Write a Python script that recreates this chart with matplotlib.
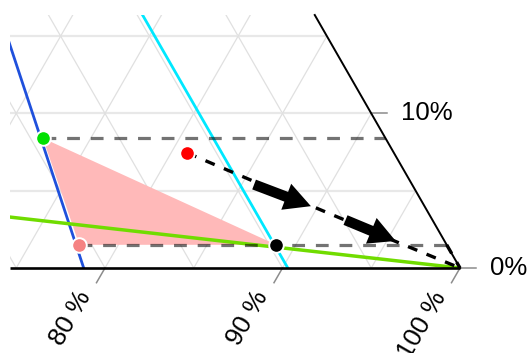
import numpy as np
import matplotlib.pyplot as plt
from matplotlib import transforms
from matplotlib.patches import Polygon, FancyArrowPatch

plt.rcParams['font.family'] = ['Liberation Sans', 'DejaVu Sans']

SQ3 = np.sqrt(3)

# compositions in percent: (bottom axis component, right axis component)
green_pt = (72.3, 8.4)
red_pt = (80.9, 7.45)
pink_pt = (77.8, 1.5)
black_pt = (88.9, 1.5)

# trajectory from the red point down to the pure corner
path_pts = [(80.9, 7.45), (89.4, 4.1), (95.3, 1.8), (100.0, 0.0)]
edge_pts = [(98.5, 1.5), (100.0, 0.0)]
arrow_tails = [(85.7, 5.4), (92.0, 3.1)]
arrow_tips = [(89.6, 4.0), (95.5, 1.75)]

blue_foot = 78.8    # line from the top vertex to this bottom value
cyan_b = 9.7        # third component held constant
green_left = 12.2   # line from the 100% corner to the left edge at this value

bottom_ticks = [80, 90, 100]
bottom_labels = ['80 %', '90 %', '100 %']
right_ticks = [0, 10]
right_labels = ['0%', '10%']
grid_vals = [5, 10, 15, 20, 25, 30]


def tern(a, c):
    a = np.asarray(a, dtype=float) / 100
    c = np.asarray(c, dtype=float) / 100
    return a + c / 2, c * SQ3 / 2


def seg(p, q):
    x0, y0 = tern(*p)
    x1, y1 = tern(*q)
    return [x0, x1], [y0, y1]


W, H = 529, 353
fig = plt.figure(figsize=(W / 100, H / 100), dpi=100)
ax = fig.add_axes([0, 0, 1, 1])
xlim = (0.74085, 1.03887)
ylim = (-0.04762, 0.15014)
ax.set_xlim(*xlim)
ax.set_ylim(*ylim)
ax.axis('off')
px_x = W / (xlim[1] - xlim[0])
px_y = H / (ylim[1] - ylim[0])

# visible part of the triangle
x_left = xlim[0] + 10 / px_x
y_top = ylim[1] - 15 / px_y
clip = Polygon([(x_left, 0), (1, 0), (1 - y_top / SQ3, y_top), (x_left, y_top)],
               closed=True, facecolor='none', edgecolor='none', transform=ax.transData)
ax.add_patch(clip)


def clipped(artists):
    for a in artists:
        a.set_clip_path(clip)


# grid
for v in grid_vals:
    if v < 20:
        clipped(ax.plot(*seg((-50, v), (100 - v, v)), color='#e8e8e8', lw=1.6, zorder=1))
    clipped(ax.plot(*seg((100 - v, 0), (60 - v, 40)), color='#e0e0e0', lw=0.9, zorder=1))
for v in [70, 75, 80, 85, 90, 95]:
    clipped(ax.plot(*seg((v, 0), (v, 100 - v)), color='#e0e0e0', lw=0.9, zorder=1))

# shaded triangle
tri = np.array([tern(*p) for p in [green_pt, pink_pt, black_pt]])
poly = Polygon(tri, closed=True, facecolor='#ffb9b9', edgecolor='none', zorder=2)
ax.add_patch(poly)
poly.set_clip_path(clip)

# reference lines
clipped(ax.plot(*seg((0, 100), (blue_foot, 0)), color='#1f50dc', lw=2.0, zorder=3))
clipped(ax.plot(*seg((100 - cyan_b, 0), (70 - cyan_b, 30)), color='#00e8ff', lw=2.0, zorder=3))
clipped(ax.plot(*seg((100, 0), (0, green_left)), color='#70dc00', lw=2.5, zorder=3.5))

# horizontal guides to the right edge
for p in [green_pt, pink_pt]:
    ax.plot(*seg(p, (100 - p[1], p[1])), color='black', alpha=0.55, lw=2.3,
            dashes=(4, 3.4), zorder=4)

# trajectory
px, py = tern([p[0] for p in path_pts], [p[1] for p in path_pts])
ax.plot(px, py, color='black', lw=2.4, dashes=(3.0, 3.0), zorder=5)
ax.plot(*seg(*edge_pts), color='black', lw=2.4, dashes=(3.0, 3.0), zorder=5)
for t, h in zip(arrow_tails, arrow_tips):
    ax.add_patch(FancyArrowPatch(tern(*t), tern(*h),
                                 arrowstyle='simple,head_length=1.9,head_width=2.0,tail_width=0.75',
                                 mutation_scale=10, color='black', lw=0,
                                 shrinkA=0, shrinkB=0, zorder=6))

# triangle edges
ax.plot([x_left, 1], [0, 0], color='black', lw=1.9, zorder=4.5, solid_capstyle='butt')
ax.plot([1, 1 - y_top / SQ3], [0, y_top], color='black', lw=1.4, zorder=4.5)

# points
for p, col in [(green_pt, '#00e000'), (red_pt, '#ff0000'),
               (pink_pt, '#f58282'), (black_pt, 'black')]:
    x, y = tern(*p)
    ax.plot(x, y, 'o', ms=10.5, color=col, mec='white', mew=1.4, zorder=7)

# bottom axis ticks and labels
for t, lab in zip(bottom_ticks, bottom_labels):
    x, y = tern(t, 0)
    ax.plot([x, x - 8.5 / px_x], [y, y - 14.7 / px_y], color='#8c8c8c', lw=1.1, zorder=4)
    tr = transforms.offset_copy(ax.transData, fig, x=-20, y=-25, units='dots')
    ax.text(x, y, lab, transform=tr, rotation=60, rotation_mode='anchor',
            ha='right', va='center', fontsize=18.5, color='black')

# right axis ticks and labels
for t, lab in zip(right_ticks, right_labels):
    x, y = tern(100 - t, t)
    ax.plot([x, x + 16 / px_x], [y, y], color='#8c8c8c', lw=1.1, zorder=4)
    tr = transforms.offset_copy(ax.transData, fig, x=30, y=0, units='dots')
    ax.text(x, y, lab, transform=tr, ha='left', va='center', fontsize=18.5, color='black')

fig.savefig('out.png', dpi=100)
